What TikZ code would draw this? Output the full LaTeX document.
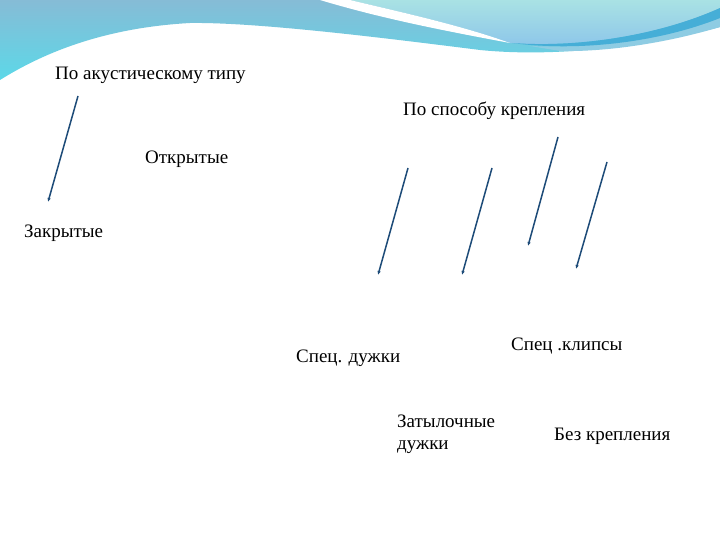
\documentclass[tikz,border=0pt]{standalone}
\usepackage{fontspec}
\setmainfont{Liberation Serif}
\usetikzlibrary{arrows.meta}
\definecolor{skyTop}{HTML}{86BCD6}
\definecolor{skyLow}{HTML}{5CD8E8}
\definecolor{aquaTop}{HTML}{A9E2E4}
\definecolor{aquaLow}{HTML}{8CC5EA}
\definecolor{swoosh}{HTML}{46AED7}
\definecolor{bandBlue}{HTML}{8ECCE3}
\definecolor{lineBlue}{HTML}{1D4B78}
\tikzset{
  lbl/.style={anchor=base west,inner sep=0pt,font=\fontsize{19}{22}\selectfont},
  arr/.style={draw=lineBlue,line width=1.5pt,-{Latex[length=4pt,width=3.5pt]}}
}
\begin{document}
\begin{tikzpicture}[x=1pt,y=-1pt]
\useasboundingbox (0,0) rectangle (720,540);
\fill[white] (0,0) rectangle (720,540);

% top wave
\shade[top color=skyTop,bottom color=skyLow] (0,80) .. controls (40,55) and (100,28) .. (190,23)
  .. controls (260,22) and (400,40) .. (480,50) .. controls (560,58) and (650,45) .. (720,27)
  -- (720,0) -- (0,0) -- cycle;
\shade[top color=aquaTop,bottom color=aquaLow] (350,0) .. controls (400,12) and (460,25) .. (510,43)
  .. controls (580,48) and (660,35) .. (720,8) -- (720,0) -- cycle;
\fill[bandBlue] (530,46) .. controls (600,49) and (670,36) .. (720,18) -- (720,27)
  .. controls (670,42) and (610,52) .. (560,51) -- cycle;
\fill[white] (320,0) .. controls (380,18) and (440,30) .. (510,43)
  .. controls (460,25) and (400,12) .. (350,0) -- cycle; %white stripe
\fill[swoosh] (512,43) .. controls (580,48) and (660,35) .. (720,8) -- (720,18)
  .. controls (660,42) and (580,52) .. (512,43) -- cycle; %blue stripe

% labels
\node[lbl] (akust) at (55,80) {По акустическому типу};
\node[lbl] (otkr) at (145,164) {Открытые};
\node[lbl] (zakr) at (24,237) {Закрытые};
\node[lbl] (kreplen) at (403,116) {По способу крепления};
\node[lbl] (dugi) at (296,362) {Спец. дужки};
\node[lbl] (klips) at (511,350) {Спец .клипсы};
\node[lbl,align=left] (zatyl) at (397,449) {Затылочные\\дужки};
\node[lbl] (bez) at (554,440) {Без крепления};

% arrows
\coordinate (a1s) at (78,96);  \coordinate (a1e) at (48,202);
\coordinate (b1s) at (408,168); \coordinate (b1e) at (378,275);
\coordinate (b2s) at (492,168); \coordinate (b2e) at (462,275);
\coordinate (b3s) at (558,137); \coordinate (b3e) at (528,246);
\coordinate (b4s) at (607,162); \coordinate (b4e) at (576,269);
\draw[arr] (a1s) -- (a1e);
\draw[arr] (b1s) -- (b1e);
\draw[arr] (b2s) -- (b2e);
\draw[arr] (b3s) -- (b3e);
\draw[arr] (b4s) -- (b4e);
\end{tikzpicture}
\end{document}
